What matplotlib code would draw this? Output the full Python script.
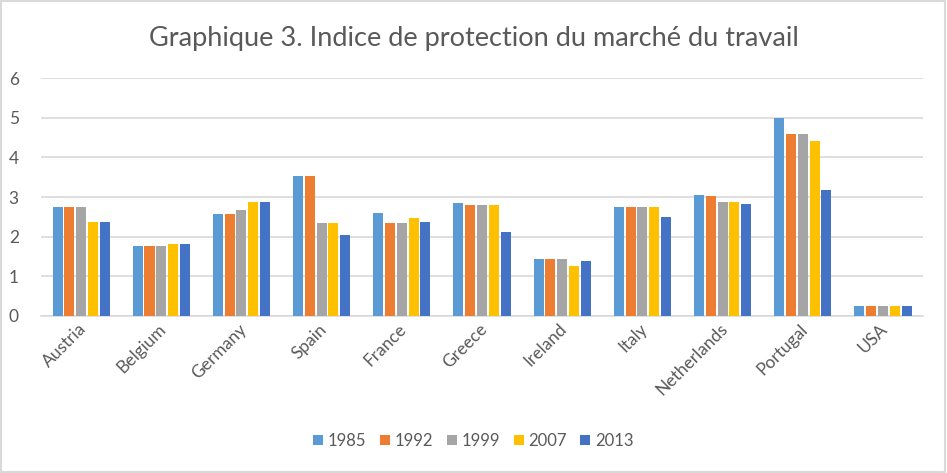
import matplotlib.pyplot as plt
import matplotlib.transforms as mtransforms
import numpy as np

plt.rcParams['font.family'] = ['Lato', 'DejaVu Sans']

countries = ['Austria', 'Belgium', 'Germany', 'Spain', 'France', 'Greece',
             'Ireland', 'Italy', 'Netherlands', 'Portugal', 'USA']
years = ['1985', '1992', '1999', '2007', '2013']

v1985 = [2.75, 1.77, 2.58, 3.54, 2.60, 2.85, 1.44, 2.75, 3.06, 5.00, 0.25]
v1992 = [2.75, 1.77, 2.58, 3.54, 2.35, 2.80, 1.44, 2.75, 3.03, 4.60, 0.25]
v1999 = [2.75, 1.77, 2.68, 2.35, 2.35, 2.80, 1.44, 2.75, 2.88, 4.60, 0.25]
v2007 = [2.37, 1.82, 2.88, 2.35, 2.47, 2.80, 1.26, 2.75, 2.88, 4.42, 0.25]
v2013 = [2.37, 1.82, 2.88, 2.05, 2.37, 2.12, 1.39, 2.50, 2.83, 3.18, 0.25]
series = [v1985, v1992, v1999, v2007, v2013]

colors = ['#5B9BD5', '#ED7D31', '#A5A5A5', '#FFC000', '#4472C4']
grey = '#595959'

fig = plt.figure(figsize=(9.47, 4.73), dpi=100)
ax = fig.add_axes([0.0433, 0.332, 0.9314, 0.503])

x = np.arange(len(countries))
slot = 0.147
for i, vals in enumerate(series):
    ax.bar(x + (i - 2) * slot, vals, width=0.125, color=colors[i],
           label=years[i], zorder=3)

ax.set_xlim(-0.5, len(countries) - 0.5)
ax.set_ylim(0, 6)
ax.set_yticks(range(0, 7))
ax.yaxis.grid(True, color='#D9D9D9', linewidth=1.2, zorder=0)
for s in ['top', 'right', 'left']:
    ax.spines[s].set_visible(False)
ax.spines['bottom'].set_color('#D9D9D9')
ax.spines['bottom'].set_linewidth(1.2)
ax.tick_params(axis='both', length=0, colors=grey, labelsize=12.5)
ax.tick_params(axis='y', pad=16)

ax.set_xticks(x)
ax.set_xticklabels(countries, rotation=45, ha='right', va='top')
offset = mtransforms.ScaledTranslation(8 / 100, 0, fig.dpi_scale_trans)
for lab in ax.get_xticklabels():
    lab.set_transform(lab.get_transform() + offset)

fig.suptitle('Graphique 3. Indice de protection du marché du travail',
             color=grey, fontsize=19.5, y=0.945)

ax.legend(loc='center', bbox_to_anchor=(0.5, 0.068), bbox_transform=fig.transFigure,
          ncol=5, frameon=False, fontsize=12, labelcolor=grey,
          handlelength=0.6, handleheight=0.6, handletextpad=0.3, columnspacing=0.8)

fig.patches.append(plt.Rectangle((0.001, 0.002), 0.997, 0.995, transform=fig.transFigure,
                                 fill=False, edgecolor='#D9D9D9', linewidth=1.5))

fig.savefig('out.png', dpi=100)
